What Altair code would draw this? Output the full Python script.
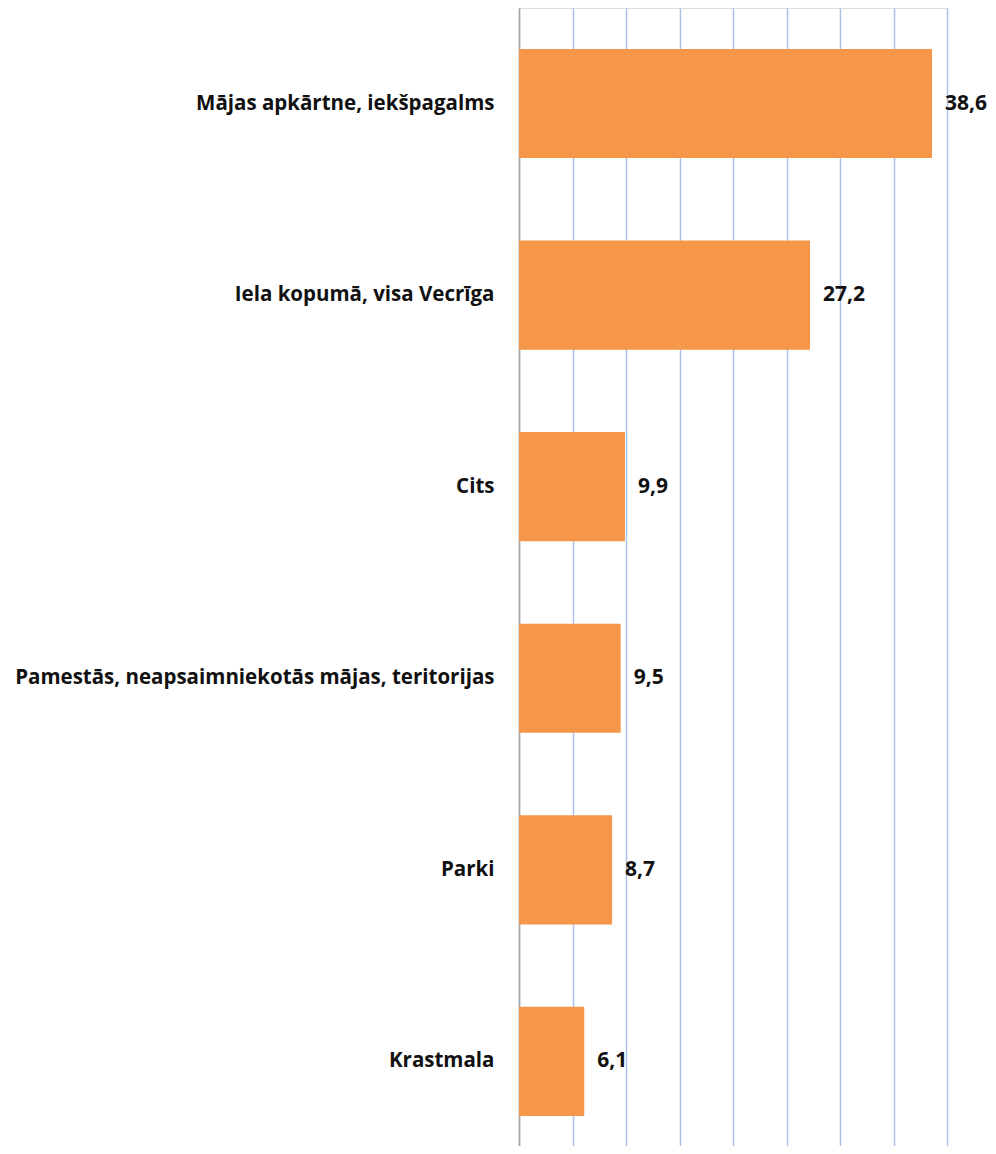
import altair as alt
import pandas as pd

categories = [
    "Mājas apkārtne, iekšpagalms",
    "Iela kopumā, visa Vecrīga",
    "Cits",
    "Pamestās, neapsaimniekotās mājas, teritorijas",
    "Parki",
    "Krastmala",
]
values = [38.6, 27.2, 9.9, 9.5, 8.7, 6.1]
grid_ticks = [0, 5, 10, 15, 20, 25, 30, 35, 40]

df = pd.DataFrame({"category": categories, "value": values})

FONT = "Open Sans"

base = alt.Chart(df).encode(
    y=alt.Y(
        "category:N",
        sort=categories,
        title=None,
        scale=alt.Scale(paddingInner=0.43, paddingOuter=0.185, align=0.577),
        axis=alt.Axis(
            labelFont=FONT,
            labelFontSize=20.5,
            labelFontWeight="bold",
            labelColor="#111111",
            labelPadding=25,
            labelLimit=600,
            ticks=False,
            domain=True,
            domainColor="#A6A6A6",
            domainWidth=1.5,
            grid=False,
        ),
    ),
    x=alt.X(
        "value:Q",
        title=None,
        scale=alt.Scale(domain=[0, 40], nice=False, zero=True),
        axis=alt.Axis(
            values=grid_ticks,
            labels=False,
            ticks=False,
            domain=False,
            grid=True,
            gridColor="#A9C2EA",
            gridWidth=1.5,
        ),
    ),
)

bars = base.mark_bar(color="#F59648")

text = base.transform_calculate(
    label="replace(format(datum.value, '.1f'), '.', ',')"
).mark_text(
    align="left",
    baseline="middle",
    dx=13,
    font=FONT,
    fontSize=21,
    fontWeight="bold",
    color="#111111",
).encode(text="label:N")

chart = (
    (bars + text)
    .properties(
        width=428,
        height=1138,
        autosize=alt.AutoSizeParams(type="none"),
        padding={"left": 511, "top": 0, "right": 40, "bottom": 0},
    )
    .configure_view(stroke=None)
    .configure(background="white")
)

chart.save("out.html", embed_options={"renderer": "svg", "actions": False})
